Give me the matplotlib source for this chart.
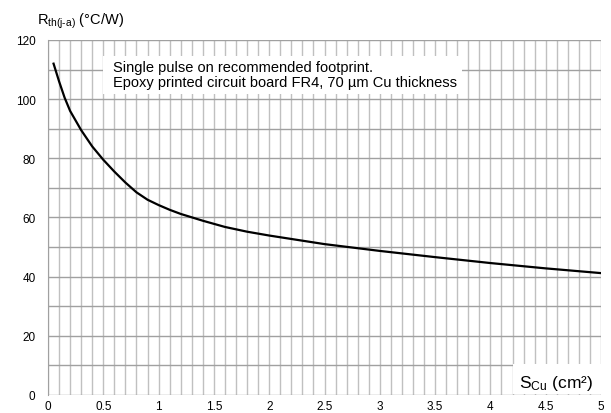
import matplotlib.pyplot as plt
from matplotlib.patches import Rectangle

plt.rcParams['font.family'] = ['Liberation Sans', 'DejaVu Sans']
plt.rcParams['mathtext.fontset'] = 'custom'
plt.rcParams['mathtext.rm'] = 'Liberation Sans'
plt.rcParams['mathtext.it'] = 'Liberation Sans'

# S_Cu (cm2) vs Rth(j-a) (degC/W)
s_cu = [0.05, 0.1, 0.15, 0.2, 0.3, 0.4, 0.5, 0.6, 0.7, 0.8, 0.9, 1.0,
        1.1, 1.2, 1.4, 1.6, 1.8, 2.0, 2.5, 3.0, 3.5, 4.0, 4.5, 5.0]
r_th = [112, 106, 100.5, 96, 89.5, 84, 79.5, 75.5, 71.8, 68.5, 66, 64.2,
        62.6, 61.2, 58.9, 56.8, 55.2, 53.9, 51, 48.7, 46.6, 44.6, 42.8, 41.2]

x_ticks = [0, 0.5, 1, 1.5, 2, 2.5, 3, 3.5, 4, 4.5, 5]
x_tick_labels = ['0', '0.5', '1', '1.5', '2', '2.5', '3', '3.5', '4', '4.5', '5']
y_ticks = [0, 20, 40, 60, 80, 100, 120]

fig = plt.figure(figsize=(6.11, 4.14), dpi=100)
ax = fig.add_axes([0.0786, 0.0435, 0.905, 0.8575])

# grid: vertical every 0.1, horizontal every 10
for i in range(51):
    ax.axvline(i * 0.1, color='#c0c0c0', lw=1, zorder=1)
for j in range(13):
    ax.axhline(j * 10, color='#a0a0a0', lw=1, zorder=1)

ax.plot(s_cu, r_th, color='black', lw=1.6, zorder=3)

ax.set_xlim(0, 5)
ax.set_ylim(0, 120)
ax.set_xticks(x_ticks)
ax.set_xticklabels(x_tick_labels)
ax.set_yticks(y_ticks)
ax.tick_params(length=0, labelsize=8.5)
ax.tick_params(axis='y', pad=9)
ax.tick_params(axis='x', pad=3.5)
for sp in ax.spines.values():
    sp.set_visible(False)
ax.spines['left'].set_visible(True)
ax.spines['left'].set_color('#a0a0a0')

# note box
ax.add_patch(Rectangle((0.5, 101.7), 3.24, 13.0, facecolor='white', edgecolor='none', zorder=2))
ax.text(0.59, 108.3, 'Single pulse on recommended footprint.\nEpoxy printed circuit board FR4, 70 \u00b5m Cu thickness',
        fontsize=10.5, va='center', ha='left', linespacing=1.15, zorder=4)

# x label box
ax.add_patch(Rectangle((4.2, 0.3), 0.8, 10.3, facecolor='white', edgecolor='none', zorder=2))
ax.text(4.93, 4.3, 'S$_{\\mathrm{Cu}}$ (cm\u00b2)', fontsize=12.5,
        ha='right', va='center', zorder=4)

fig.text(0.06, 0.948, 'R$_{\\mathrm{th(j\u2010a)}}$ (\u00b0C/W)', fontsize=10.5,
         ha='left', va='center')

fig.savefig('out.png', dpi=100)
